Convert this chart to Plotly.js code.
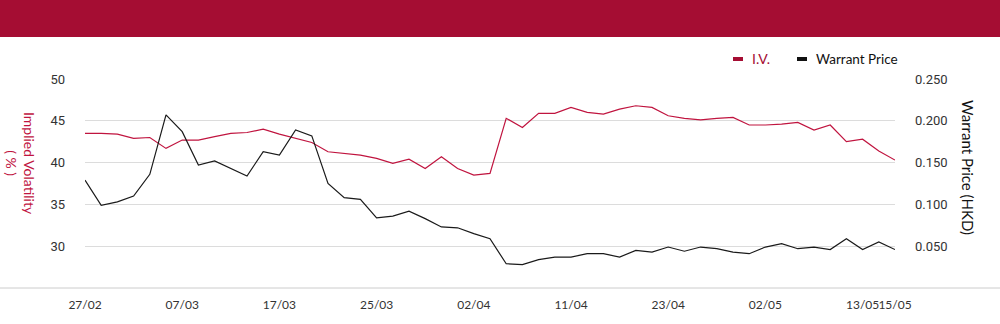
<!DOCTYPE html>
<html>
<head>
<meta charset="utf-8">
<script src="https://cdn.plot.ly/plotly-3.0.1.min.js"></script>
<style>
html,body{margin:0;padding:0;background:#fff;}
#chart{width:1000px;height:324px;}
</style>
</head>
<body>
<div id="chart"></div>
<script>
const dates = ["27/02","28/02","03/03","04/03","05/03","06/03","07/03","10/03","11/03","12/03","13/03","14/03",
  "17/03","18/03","19/03","20/03","21/03","24/03","25/03","26/03","27/03","28/03","31/03","01/04","02/04","03/04",
  "07/04","08/04","09/04","10/04","11/04","14/04","15/04","16/04","17/04","22/04","23/04","24/04","25/04","28/04",
  "29/04","30/04","02/05","06/05","07/05","08/05","09/05","12/05","13/05","14/05","15/05"];

const impliedVol = [43.5,43.5,43.4,42.9,43.0,41.7,42.7,42.7,43.1,43.5,43.6,44.0,
  43.4,42.9,42.4,41.3,41.1,40.9,40.5,39.9,40.4,39.3,40.7,39.3,38.5,38.7,
  45.3,44.2,45.9,45.9,46.6,46.0,45.8,46.4,46.8,46.6,45.6,45.3,45.1,45.3,
  45.4,44.5,44.5,44.6,44.8,43.9,44.5,42.5,42.8,41.4,40.3];

const warrantPrice = [0.129,0.099,0.103,0.110,0.136,0.207,0.187,0.147,0.152,0.143,0.134,0.163,
  0.159,0.189,0.182,0.125,0.108,0.106,0.084,0.086,0.092,0.083,0.073,0.072,0.065,0.059,
  0.029,0.028,0.034,0.037,0.037,0.041,0.041,0.037,0.045,0.043,0.049,0.044,0.049,0.047,
  0.043,0.041,0.049,0.053,0.047,0.049,0.046,0.059,0.046,0.055,0.046];

const tickDates = ["27/02","07/03","17/03","25/03","02/04","11/04","23/04","02/05","13/05","15/05"];
const leftTicks = [30,35,40,45,50];
const rightTicks = [0.05,0.10,0.15,0.20,0.25];
const rightTickText = ["0.050","0.100","0.150","0.200","0.250"];

const RED = "#c0143f";
const BANNER = "#a50d33";

// plot area in px: left 85, right 895, top 79, bottom 288
const L = 85, R = 895, T = 79, B = 288, W = R - L, H = B - T;
const px = x => (x - L) / W;
const py = y => (B - y) / H;

const traces = [
  {x: dates, y: impliedVol, type: "scatter", mode: "lines", name: "I.V.",
   line: {color: RED, width: 1.2}, yaxis: "y", hoverinfo: "x+y"},
  {x: dates, y: warrantPrice, type: "scatter", mode: "lines", name: "Warrant Price",
   line: {color: "#1a1a1a", width: 1.2}, yaxis: "y2", hoverinfo: "x+y"}
];

const layout = {
  width: 1000, height: 324,
  margin: {l: L, r: 1000 - R, t: T, b: 324 - B, pad: 0},
  paper_bgcolor: "#fff", plot_bgcolor: "#fff",
  showlegend: false,
  font: {family: "Roboto, sans-serif", size: 12, color: "#333"},
  xaxis: {
    type: "category", range: [0, dates.length - 1],
    tickmode: "array", tickvals: tickDates, ticktext: tickDates,
    tickangle: 0, autotickangles: [0],
    showgrid: false, zeroline: false, showline: false, ticks: "",
    tickfont: {family: "Lato, sans-serif", size: 12, color: "#333"},
    ticklabelstandoff: 8, fixedrange: true
  },
  yaxis: {
    range: [25, 50], tickmode: "array", tickvals: leftTicks,
    showgrid: true, gridcolor: "#dcdcdc", gridwidth: 1,
    zeroline: false, showline: false, ticks: "",
    tickfont: {family: "Roboto, sans-serif", size: 13, color: "#333"},
    ticklabelstandoff: 19, fixedrange: true
  },
  yaxis2: {
    range: [0, 0.25], overlaying: "y", side: "right",
    tickmode: "array", tickvals: rightTicks, ticktext: rightTickText,
    showgrid: false, zeroline: false, showline: false, ticks: "",
    tickfont: {family: "Roboto, sans-serif", size: 13, color: "#333"},
    ticklabelstandoff: 19, fixedrange: true
  },
  shapes: [
    {type: "rect", xref: "paper", yref: "paper", x0: px(-5), x1: px(1005), y0: py(37), y1: py(-5),
     fillcolor: BANNER, line: {width: 0}, layer: "above"},
    {type: "line", xref: "paper", yref: "paper", x0: px(0), x1: px(1000), y0: 0, y1: 0,
     line: {color: "#cccccc", width: 1}},
    {type: "rect", xref: "paper", yref: "paper", x0: px(733), x1: px(743), y0: py(61), y1: py(57),
     fillcolor: BANNER, line: {width: 0}},
    {type: "rect", xref: "paper", yref: "paper", x0: px(797), x1: px(807), y0: py(61), y1: py(57),
     fillcolor: "#111", line: {width: 0}}
  ],
  annotations: [
    {xref: "paper", yref: "paper", x: px(750), y: py(59), xanchor: "left", yanchor: "middle",
     text: "I.V.", showarrow: false, font: {family: "Lato, sans-serif", size: 14, color: BANNER}},
    {xref: "paper", yref: "paper", x: px(814), y: py(59), xanchor: "left", yanchor: "middle",
     text: "Warrant Price", showarrow: false, font: {family: "Lato, sans-serif", size: 13.5, color: "#111"}},
    {xref: "paper", yref: "paper", x: px(21), y: py(163), xanchor: "center", yanchor: "middle",
     text: "Implied Volatility<br>( % )", textangle: 90, showarrow: false,
     font: {family: "Lato, sans-serif", size: 14, color: RED}},
    {xref: "paper", yref: "paper", x: px(968), y: py(167), xanchor: "center", yanchor: "middle",
     text: "Warrant Price (HKD)", textangle: 90, showarrow: false,
     font: {family: "Lato, sans-serif", size: 15, color: "#111"}}
  ]
};

Plotly.newPlot("chart", traces, layout, {displayModeBar: false, staticPlot: true});
</script>
</body>
</html>
